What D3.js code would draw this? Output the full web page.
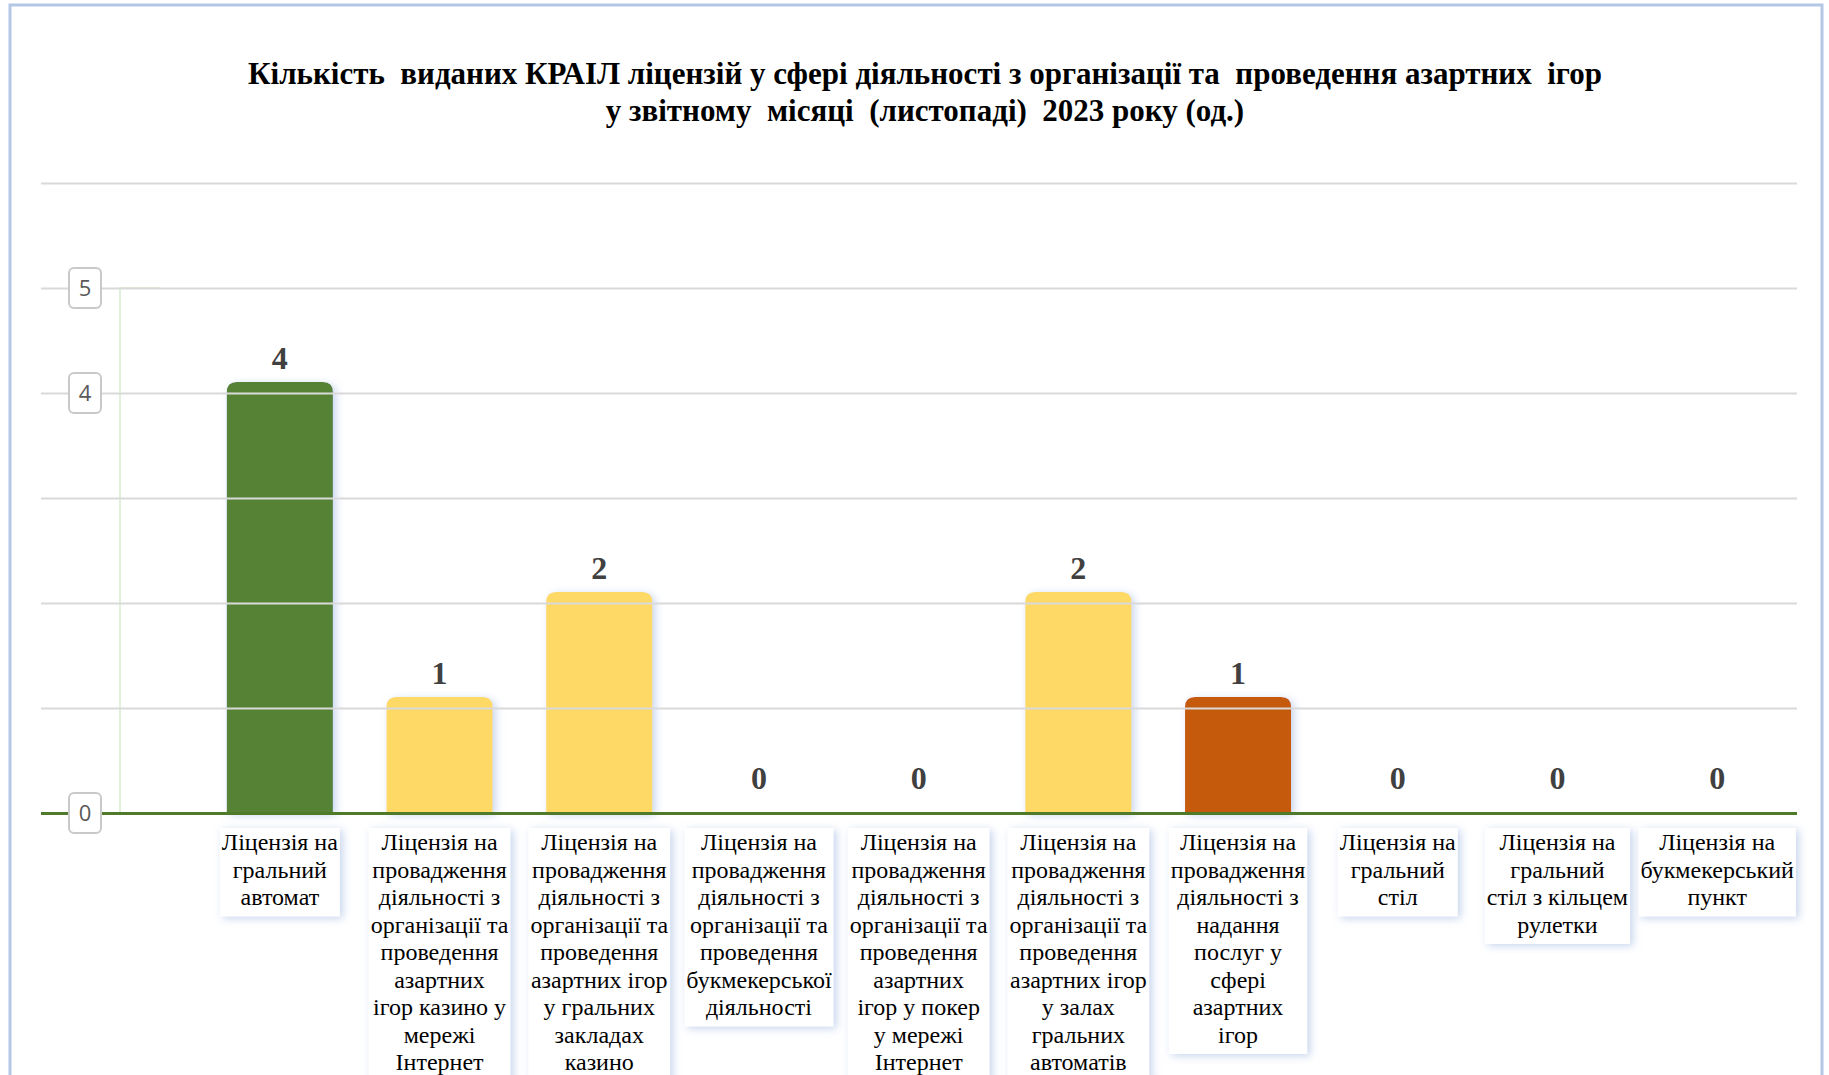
<!DOCTYPE html>
<html>
<head>
<meta charset="utf-8">
<script src="https://cdn.jsdelivr.net/npm/d3@7"></script>
<style>
  body { margin: 0; background: #fff; }
  svg { display: block; }
</style>
</head>
<body>
<svg id="chart" width="1829" height="1075"></svg>
<script>
const titleLines = [
  'Кількість  виданих КРАІЛ ліцензій у сфері діяльності з організації та  проведення азартних  ігор',
  'у звітному  місяці  (листопаді)  2023 року (од.)',
];

const categories = [
  'Ліцензія на\nгральний\nавтомат',
  'Ліцензія на\nпровадження\nдіяльності з\nорганізації та\nпроведення\nазартних\nігор казино у\nмережі\nІнтернет',
  'Ліцензія на\nпровадження\nдіяльності з\nорганізації та\nпроведення\nазартних ігор\nу гральних\nзакладах\nказино',
  'Ліцензія на\nпровадження\nдіяльності з\nорганізації та\nпроведення\nбукмекерської\nдіяльності',
  'Ліцензія на\nпровадження\nдіяльності з\nорганізації та\nпроведення\nазартних\nігор у покер\nу мережі\nІнтернет',
  'Ліцензія на\nпровадження\nдіяльності з\nорганізації та\nпроведення\nазартних ігор\nу залах\nгральних\nавтоматів',
  'Ліцензія на\nпровадження\nдіяльності з\nнадання\nпослуг у\nсфері\nазартних\nігор',
  'Ліцензія на\nгральний\nстіл',
  'Ліцензія на\nгральний\nстіл з кільцем\nрулетки',
  'Ліцензія на\nбукмекерський\nпункт',
];

const values = [4, 1, 2, 0, 0, 2, 1, 0, 0, 0];

const barColors = ['#548235', '#ffd966', '#ffd966', '#ffd966', '#ffd966',
  '#ffd966', '#c55a11', '#ffd966', '#ffd966', '#ffd966'];

const yTickLabels = [5, 4, 0];

const serif = "'Liberation Serif', 'DejaVu Serif', serif";
const sans = "'Open Sans', 'Noto Sans', sans-serif";

const svg = d3.select('#chart');
const defs = svg.append('defs');

defs.append('filter')
  .attr('id', 'glow')
  .attr('x', '-20%').attr('y', '-20%')
  .attr('width', '140%').attr('height', '140%')
  .append('feDropShadow')
  .attr('dx', 3).attr('dy', 2)
  .attr('stdDeviation', 4)
  .attr('flood-color', '#b4c7e7')
  .attr('flood-opacity', 0.75);

// frame
svg.append('rect')
  .attr('x', 10).attr('y', 5)
  .attr('width', 1812).attr('height', 1100)
  .attr('fill', '#fff')
  .attr('stroke', '#b4c7e7')
  .attr('stroke-width', 3);

// title
svg.append('g')
  .selectAll('text')
  .data(titleLines)
  .enter()
  .append('text')
  .attr('x', 925)
  .attr('y', (d, i) => 84 + i * 37)
  .attr('text-anchor', 'middle')
  .style('font-family', serif)
  .style('font-weight', 'bold')
  .style('font-size', '31px')
  .style('white-space', 'pre')
  .attr('fill', '#000')
  .text(d => d);

const left = 41;
const right = 1797;

const x = d3.scaleBand()
  .domain(d3.range(categories.length))
  .range([200, 1797])
  .paddingInner(0.336)
  .paddingOuter(0.168);

const y = d3.scaleLinear()
  .domain([0, 6])
  .range([813, 183]);

// gridlines
const grid = svg.append('g')
  .attr('transform', `translate(${left},0)`)
  .call(d3.axisLeft(y).ticks(6).tickSize(-(right - left)).tickFormat(''));
grid.select('.domain').remove();
grid.selectAll('.tick line')
  .attr('stroke', '#d9d9d9')
  .attr('stroke-width', 2);

// light green vertical axis line
svg.append('path')
  .attr('d', `M120,${y(0)}V${y(5)}H160`)
  .attr('fill', 'none')
  .attr('stroke', '#e2efda')
  .attr('stroke-width', 2);

// bars
const capLift = 11;
const rad = 10;
const barPath = (i, v) => {
  const x0 = x(i);
  const x1 = x0 + x.bandwidth();
  const top = y(v) - capLift;
  const bot = y(0);
  return `M${x0},${bot}V${top + rad}Q${x0},${top} ${x0 + rad},${top}` +
    `H${x1 - rad}Q${x1},${top} ${x1},${top + rad}V${bot}Z`;
};

svg.append('g')
  .selectAll('path')
  .data(values.map((v, i) => ({ v, i })).filter(d => d.v > 0))
  .enter()
  .append('path')
  .attr('d', d => barPath(d.i, d.v))
  .attr('fill', d => barColors[d.i])
  .style('filter', 'url(#glow)');

// baseline
grid.selectAll('.tick')
  .filter(d => d === 0)
  .raise()
  .select('line')
  .attr('stroke', '#4f7a2a')
  .attr('stroke-width', 3);
svg.node().appendChild(grid.node());

// y tick label boxes
const yLab = svg.append('g')
  .selectAll('g')
  .data(yTickLabels)
  .enter()
  .append('g')
  .attr('transform', d => `translate(85,${y(d)})`);
yLab.append('rect')
  .attr('x', -16).attr('y', -20)
  .attr('width', 32).attr('height', 40)
  .attr('rx', 5)
  .attr('fill', '#fff')
  .attr('stroke', '#c9c9c9')
  .attr('stroke-width', 2);
yLab.append('text')
  .attr('text-anchor', 'middle')
  .attr('dy', '0.36em')
  .style('font-family', sans)
  .style('font-size', '22px')
  .attr('fill', '#595959')
  .text(d => d);

// value labels
svg.append('g')
  .selectAll('text')
  .data(values)
  .enter()
  .append('text')
  .attr('x', (d, i) => x(i) + x.bandwidth() / 2)
  .attr('y', d => y(d) - 24)
  .attr('text-anchor', 'middle')
  .style('font-family', serif)
  .style('font-weight', 'bold')
  .style('font-size', '32px')
  .attr('fill', '#404040')
  .text(d => d);

// category label boxes
const lineH = 27.5;
const boxTop = 828;
const cat = svg.append('g')
  .selectAll('g')
  .data(categories)
  .enter()
  .append('g')
  .attr('transform', (d, i) => `translate(${x(i) + x.bandwidth() / 2},${boxTop})`);

const catText = cat.append('text')
  .attr('text-anchor', 'middle')
  .style('font-family', serif)
  .style('font-size', '24px')
  .attr('fill', '#000');
catText.selectAll('tspan')
  .data(d => d.split('\n'))
  .enter()
  .append('tspan')
  .attr('x', 0)
  .attr('y', (d, j) => 22 + j * lineH)
  .text(d => d);

cat.each(function(d) {
  const g = d3.select(this);
  let w = 0;
  g.selectAll('tspan').each(function() {
    w = Math.max(w, this.getComputedTextLength());
  });
  const n = d.split('\n').length;
  g.insert('rect', 'text')
    .attr('x', -w / 2 - 2)
    .attr('y', 0)
    .attr('width', w + 4)
    .attr('height', n * lineH + 6)
    .attr('fill', '#fff')
    .style('filter', 'url(#glow)');
});
</script>
</body>
</html>
